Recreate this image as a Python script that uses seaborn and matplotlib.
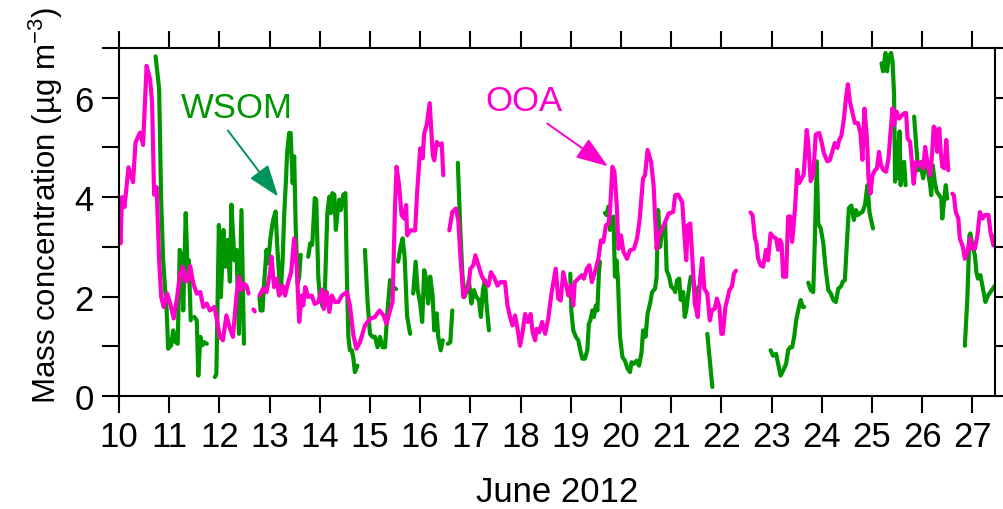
import numpy as np
import pandas as pd
import matplotlib
matplotlib.use("Agg")
import matplotlib.pyplot as plt
from matplotlib.ticker import MultipleLocator
import seaborn as sns

nan = np.nan

# OOA (magenta) : day of June 2012, mass concentration; NaN marks a data gap
ooa_day = [10.0, 10.03, 10.06, 10.11, 10.19, 10.28, 10.33, 10.42, 10.48, 10.55, 10.62, 10.66, 10.7, 10.75,
           10.8, 10.84, 10.89, 10.96, 11.02, 11.09, 11.15, 11.22, 11.27, 11.32, 11.37, 11.42, 11.48, 11.55,
           11.62, 11.68, 11.75, 11.81, 11.9, 11.94, 12.01, 12.07, 12.14, 12.2, 12.27, 12.34, 12.39, 12.44,
           12.49, 12.54, 12.58, nan,
           12.68, 12.705, nan,
           12.8, 12.87, 12.94, 13.01, 13.04, 13.09, 13.14, 13.19, 13.26, 13.31, 13.37, 13.43, 13.49, 13.54,
           13.59, 13.64, 13.67, 13.71, 13.77, 13.84, 13.9, 13.97, 14.04, 14.08, 14.14, 14.19, 14.24, 14.3,
           14.37, 14.44, 14.54, 14.6, 14.67, 14.73, 14.8, 14.9, 15.0, 15.1, 15.19, 15.27, 15.33, 15.4, 15.45,
           15.5, 15.53, 15.58, 15.63, 15.68, 15.72, 15.74, 15.8, 15.9, 15.94, 16.0, 16.05, 16.08, 16.13,
           16.19, 16.25, 16.28, 16.33, 16.38, 16.43, 16.46, nan,
           16.58, 16.64, 16.71, 16.76, 16.8, 16.86, 16.91, 16.96, 17.0, 17.06, 17.1, 17.16, 17.22, 17.29,
           17.36, 17.41, 17.47, 17.54, 17.6, 17.69, 17.74, 17.79, 17.84, 17.89, 17.94, 17.99, 18.04, 18.09,
           18.14, 18.2, 18.24, 18.29, 18.32, 18.37, 18.43, 18.49, 18.55, 18.62, 18.7, 18.75, 18.8, 18.85,
           18.91, 18.95, 19.0, 19.05, 19.08, 19.15, 19.22, 19.26, 19.32, 19.37, 19.42, 19.48, 19.55, 19.6,
           19.65, 19.7, 19.75, 19.78, 19.83, 19.87, 19.92, 19.95, 20.0, 20.05, 20.12, 20.18, 20.26, 20.32,
           20.37, 20.44, 20.48, 20.53, 20.6, 20.65, 20.71, 20.75, 20.82, 20.88, 20.95, 21.04, 21.08, 21.14,
           21.22, 21.26, 21.3, 21.33, 21.38, 21.43, 21.47, 21.53, 21.58, 21.62, 21.66, 21.72, 21.77, 21.81,
           21.87, 21.91, 21.96, 22.0, 22.03, 22.08, 22.13, 22.16, 22.21, 22.25, 22.29, nan,
           22.58, 22.62, 22.67, 22.7, 22.73, 22.78, 22.83, 22.89, 22.93, 22.98, 23.03, 23.09, 23.13, 23.17,
           23.2, 23.23, 23.29, 23.33, 23.37, 23.41, 23.47, 23.51, 23.55, 23.6, 23.64, 23.7, 23.73, 23.78,
           23.83, 23.88, 23.95, 24.0, 24.04, 24.11, 24.16, 24.21, 24.26, 24.31, 24.35, 24.39, 24.44, 24.48,
           24.52, 24.56, 24.61, 24.66, 24.72, 24.77, 24.81, 24.85, 24.9, 24.93, 24.97, 25.01, 25.06, 25.1,
           25.14, 25.18, 25.23, 25.28, 25.33, 25.36, 25.41, 25.44, 25.49, 25.54, 25.6, 25.65, 25.68, 25.71,
           25.76, 25.8, 25.83, 25.88, 25.93, 25.98, 26.02, 26.06, 26.11, 26.16, 26.2, 26.23, 26.27, 26.3,
           26.34, 26.36, 26.4, 26.45, 26.48, 26.52, nan,
           26.6, 26.63, 26.67, 26.72, 26.75, 26.81, 26.85, 26.9, 26.95, 27.0, 27.05, 27.1, 27.15, 27.2,
           27.25, 27.32, 27.36, 27.42, 27.45]
ooa_val = [3.64, 3.07, 4.0, 3.8, 4.6, 4.3, 5.1, 5.3, 5.05, 6.64, 6.37, 5.9, 4.05, 4.2,
           2.73, 2.0, 1.79, 2.06, 1.86, 1.56, 1.93, 2.46, 2.6, 2.3, 2.33, 2.61, 2.26, 2.06,
           2.09, 1.79, 1.86, 1.72, 1.79, 1.59, 1.19, 1.12, 1.62, 1.39, 1.19, 2.0, 2.4, 2.13,
           2.26, 2.22, 2.06, nan,
           1.74, 1.70, nan,
           2.02, 2.16, 2.09, 2.49, 2.8, 2.19, 2.36, 2.02, 2.22, 2.02, 2.29, 2.49, 3.17, 2.63,
           1.49, 2.02, 1.82, 2.19, 1.99, 2.02, 1.85, 1.89, 2.14, 1.75, 2.09, 1.69, 2.02, 1.89,
           1.89, 2.02, 2.09, 1.82, 1.22, 0.95, 1.08, 1.42, 1.55, 1.59, 1.72, 1.62, 1.45, 1.72, 1.89,
           3.84, 4.61, 4.24, 3.64, 3.57, 3.84, 3.23, 3.33, 3.33, 4.1, 4.98, 4.78, 5.28, 5.45,
           5.89, 4.85, 4.74, 5.11, 5.05, 5.08, 4.44, nan,
           3.33, 3.7, 3.77, 3.53, 2.83, 1.99, 2.09, 2.19, 2.56, 2.63, 2.83, 2.63, 2.43, 2.29,
           2.22, 2.49, 2.39, 2.22, 2.29, 2.29, 1.82, 1.59, 1.42, 1.62, 1.35, 1.01, 1.28, 1.65,
           1.49, 1.65, 1.28, 1.12, 1.35, 1.28, 1.49, 1.25, 1.55, 2.09, 2.56, 1.96, 1.92, 2.49,
           2.22, 2.02, 2.22, 1.82, 2.29, 2.36, 2.43, 2.36, 2.56, 2.63, 2.29, 2.49, 2.76, 3.13,
           3.1, 3.43, 3.47, 3.7, 4.61, 4.51, 3.77, 2.96, 3.23, 2.9, 2.76, 2.93, 2.96, 3.17,
           3.53, 4.38, 4.44, 4.95, 4.71, 4.24, 2.96, 3.23, 3.37, 3.5, 3.67, 3.7, 4.04, 4.05,
           3.9, 3.3, 2.73, 3.43, 3.47, 2.63, 1.86, 1.59, 2.4, 2.77, 2.16, 2.06, 1.52, 1.72,
           1.76, 1.96, 1.79, 1.25, 1.25, 1.79, 1.99, 2.13, 2.2, 2.46, 2.52, nan,
           3.69, 3.64, 3.17, 3.07, 2.77, 2.63, 2.6, 2.94, 2.73, 3.27, 3.2, 3.17, 2.94, 3.14,
           3.07, 2.4, 2.4, 3.61, 3.61, 3.1, 3.81, 4.55, 4.28, 4.38, 4.45, 5.35, 5.09, 4.32,
           4.45, 5.26, 5.29, 5.09, 4.89, 4.72, 4.74, 4.92, 5.09, 4.99, 5.16, 5.23, 5.56, 5.97,
           6.27, 5.93, 5.7, 5.49, 5.49, 5.29, 4.75, 5.78, 5.18, 4.38, 4.07, 4.44, 4.54, 4.58,
           4.91, 4.64, 4.54, 4.51, 4.78, 5.18, 5.79, 5.45, 5.72, 5.58, 5.65, 5.69, 5.69, 5.18,
           5.11, 4.64, 4.27, 4.71, 4.64, 4.71, 4.58, 5.01, 4.64, 4.44, 4.91, 5.42, 5.35, 4.91,
           5.38, 5.05, 4.61, 4.58, 5.15, 4.54, nan,
           4.07, 4.04, 3.7, 3.57, 3.17, 3.0, 2.76, 2.9, 3.17, 2.96, 2.96, 3.23, 3.7, 3.57,
           3.64, 3.64, 3.3, 3.03, 3.23]

# WSOM (green)
wsom_day = [10.73, 10.8, 10.84, 10.88, 10.92, 10.95, 10.98, 11.04, 11.08, 11.13, 11.17, 11.21, 11.25, 11.28,
            11.33, 11.37, 11.39, 11.43, nan,
            11.5, 11.55, 11.58, 11.62, 11.66, 11.7, 11.75, nan,
            11.91, 11.94, 11.99, 12.03, 12.08, 12.12, 12.16, 12.21, 12.24, 12.3, 12.34, 12.39, 12.44, 12.49,
            nan,
            12.8, 12.82, 12.86, 12.89, 12.94, 12.97, 13.02, 13.07, 13.12, 13.15, 13.19, 13.22, 13.26, 13.29,
            13.33, 13.35, 13.39, 13.42, 13.46, 13.49, 13.52, 13.56, 13.59, 13.62, nan,
            13.77, 13.81, 13.85, 13.9, 13.93, 13.97, 14.0, 14.06, 14.1, 14.15, 14.19, 14.22, 14.25, 14.29,
            14.32, 14.36, 14.39, 14.42, 14.47, 14.51, 14.54, 14.57, 14.6, 14.64, 14.67, 14.7, 14.75, nan,
            14.9, 14.95, 15.0, 15.05, 15.1, 15.15, 15.2, 15.25, 15.3, 15.35, 15.4, 15.46, 15.52, nan,
            15.56, 15.61, 15.65, 15.69, 15.74, 15.8, nan,
            15.86, 15.91, 15.95, 16.0, 16.04, 16.08, 16.11, 16.16, 16.2, 16.25, 16.28, 16.33, 16.36, 16.41,
            16.45, nan,
            16.55, 16.6, 16.64, nan,
            16.75, 16.8, 16.84, 16.88, 16.93, 16.97, 17.02, 17.07, 17.12, 17.17, 17.21, 17.25, 17.29, 17.32,
            17.37, nan,
            18.99, 19.01, 19.05, 19.1, 19.15, 19.19, 19.23, 19.28, 19.33, 19.36, 19.39, 19.43, 19.46, 19.5,
            19.53, 19.56, 19.58, nan,
            19.68, 19.71, 19.75, 19.78, 19.81, 19.85, 19.88, 19.91, 19.94, 19.98, 20.03, 20.08, 20.13, 20.18,
            20.21, 20.26, 20.31, 20.36, 20.41, 20.44, 20.49, 20.53, 20.58, 20.62, 20.68, 20.71, 20.74, 20.78,
            20.81, 20.84, 20.88, 20.91, 20.96, 21.0, 21.05, 21.08, 21.12, 21.16, 21.19, 21.24, 21.27, 21.3,
            21.35, 21.39, 21.45, 21.5, 21.55, nan,
            21.72, 21.82, nan,
            22.98, 23.03, 23.09, 23.13, 23.18, 23.23, 23.29, 23.33, 23.37, 23.41, 23.45, 23.49, 23.53, 23.58,
            23.62, 23.65, nan,
            23.73, 23.78, 23.83, 23.86, 23.9, 23.93, 23.98, 24.03, 24.08, 24.13, 24.18, 24.23, 24.28, 24.33,
            24.38, 24.42, 24.46, 24.5, 24.54, 24.59, 24.64, 24.68, 24.72, 24.77, 24.81, 24.86, 24.91, 24.95,
            24.98, 25.02, nan,
            25.19, 25.22, 25.27, 25.3, 25.34, 25.38, 25.41, 25.44, 25.46, 25.5, 25.52, 25.55, 25.57, 25.6,
            25.64, 25.67, nan,
            25.84, 25.88, 25.92, 25.97, 26.02, 26.06, 26.11, 26.16, 26.18, 26.21, 26.25, 26.29, 26.34, 26.38,
            26.4, 26.44, 26.47, 26.5, nan,
            26.85, 26.9, 26.94, 26.96, 27.0, 27.05, 27.08, 27.11, 27.16, 27.21, 27.26, 27.31, 27.38, 27.45]
wsom_val = [6.83, 6.17, 3.95, 2.73, 2.13, 1.72, 0.95, 1.02, 1.32, 1.08, 1.05, 2.94, 2.8, 1.72,
            3.68, 2.4, 2.73, 1.52, nan,
            1.59, 1.52, 0.41, 1.19, 1.02, 1.08, 1.05, nan,
            0.38, 0.44, 3.44, 1.99, 3.34, 2.6, 3.14, 2.3, 3.85, 2.73, 2.94, 1.25, 3.74, 1.05,
            nan,
            1.99, 1.72, 1.72, 2.26, 2.94, 2.67, 3.2, 3.54, 3.71, 3.07, 2.4, 2.06, 2.73, 3.61,
            4.42, 4.89, 5.29, 5.29, 4.28, 4.82, 3.41, 2.26, 2.4, 2.84, nan,
            2.8, 3.07, 3.04, 3.98, 3.95, 2.4, 1.99, 1.79, 2.06, 3.68, 4.01, 3.68, 4.08, 4.05,
            3.34, 3.74, 3.95, 3.74, 4.05, 4.08, 2.4, 1.19, 0.92, 0.92, 0.75, 0.48, 0.61, nan,
            2.94, 1.93, 1.25, 1.19, 1.19, 0.98, 1.19, 0.98, 0.98, 1.72, 2.33, 2.2, 2.15, nan,
            2.7, 3.0, 3.17, 2.8, 1.6, 1.25, nan,
            2.06, 2.7, 2.13, 1.86, 1.49, 2.53, 2.4, 1.86, 2.4, 1.99, 1.32, 1.66, 1.19, 0.92,
            1.12, nan,
            1.05, 1.08, 1.72, nan,
            4.69, 3.34, 2.46, 1.99, 2.13, 2.33, 1.86, 2.13, 1.99, 1.93, 1.59, 2.13, 2.33, 1.86,
            1.32, nan,
            2.46, 1.72, 1.32, 1.19, 1.12, 0.92, 0.75, 0.75, 0.92, 1.45, 1.52, 1.72, 1.59, 1.82,
            1.72, 2.46, 2.7, nan,
            3.68, 3.64, 3.81, 3.34, 3.54, 3.61, 2.4, 2.73, 2.33, 1.19, 0.78, 0.71, 0.55, 0.48,
            0.68, 0.65, 0.71, 0.61, 0.88, 1.32, 1.19, 1.66, 1.86, 2.09, 2.16, 2.4, 3.74, 3.0,
            3.27, 3.34, 3.47, 2.53, 2.4, 2.2, 2.16, 2.09, 2.33, 2.36, 1.93, 2.09, 1.59, 1.72,
            2.13, 2.4, 2.3, 1.85, 2.2, nan,
            1.25, 0.18, nan,
            0.92, 0.81, 0.85, 0.65, 0.41, 0.51, 0.65, 0.92, 0.98, 0.98, 1.19, 1.52, 1.72, 1.93,
            1.79, 1.79, nan,
            2.28, 2.13, 2.09, 3.07, 4.72, 3.47, 3.37, 3.07, 2.53, 2.13, 2.06, 1.93, 1.89, 2.16,
            2.2, 2.3, 2.33, 3.07, 3.78, 3.83, 3.54, 3.74, 3.64, 3.68, 3.7, 3.84, 4.24, 3.7,
            3.55, 3.37, nan,
            6.69, 6.53, 6.9, 6.53, 6.83, 6.9, 6.73, 6.06, 4.31, 5.11, 4.38, 5.32, 4.24, 4.44,
            4.71, 4.24, nan,
            5.62, 5.05, 4.54, 4.64, 4.38, 4.68, 4.54, 4.24, 4.04, 4.64, 4.31, 4.11, 4.04, 3.97,
            3.57, 3.97, 4.24, 3.97, nan,
            1.01, 1.96, 3.23, 3.27, 3.03, 2.83, 2.49, 2.36, 2.43, 2.16, 1.89, 2.02, 2.12, 2.22]

x_ticks = list(range(10, 28))
y_ticks = [0, 2, 4, 6]
x_label = "June 2012"
y_label = "Mass concentration (µg m$^{-3}$)"

GREEN = "#009600"
MAGENTA = "#FF00CC"
ARROW_GREEN = "#00935A"


def to_frame(days, vals, name):
    d = np.asarray(days, float)
    v = np.asarray(vals, float)
    seg = np.cumsum(np.isnan(d))
    df = pd.DataFrame({"day": d, "val": v, "seg": seg, "series": name})
    return df.dropna()


df_w = to_frame(wsom_day, wsom_val, "WSOM")
df_o = to_frame(ooa_day, ooa_val, "OOA")

sns.set_theme(style="white")
plt.rcParams["font.family"] = ["Liberation Sans", "DejaVu Sans"]
plt.rcParams["mathtext.fontset"] = "custom"
plt.rcParams["mathtext.rm"] = "Liberation Sans"
plt.rcParams["mathtext.it"] = "Liberation Sans"
for k in ["text.color", "axes.labelcolor", "xtick.color", "ytick.color", "axes.edgecolor"]:
    plt.rcParams[k] = "black"

fig = plt.figure(figsize=(10.04, 5.10), dpi=100)
ax = fig.add_axes([0.1185, 0.2216, 0.8725, 0.6824])

sns.lineplot(data=df_w, x="day", y="val", units="seg", estimator=None, color=GREEN,
             linewidth=3.0, ax=ax, sort=False)
sns.lineplot(data=df_o, x="day", y="val", units="seg", estimator=None, color=MAGENTA,
             linewidth=3.0, ax=ax, sort=False)

ax.set_xlim(10, 27.45)
ax.set_ylim(0, 7)
ax.set_xticks(x_ticks)
ax.set_xticklabels([str(t) for t in x_ticks])
ax.set_yticks(y_ticks)
ax.yaxis.set_minor_locator(MultipleLocator(1))
ax.tick_params(axis="both", which="both", direction="out", length=12, width=1.5,
               color="black", labelcolor="black", labelsize=25, top=True, right=True,
               bottom=True, left=True, labeltop=False, labelright=False)
ax.tick_params(axis="x", pad=5)
ax.tick_params(axis="y", pad=6)
for s in ax.spines.values():
    s.set_visible(True)
    s.set_color("black")
    s.set_linewidth(1.5)

ax.set_xlabel(x_label, fontsize=25, labelpad=16)
ax.set_ylabel(y_label, fontsize=22.5)
ax.yaxis.set_label_coords(-0.062, 0.55)

# arrows (shaft start -> head) and their labels
ax.annotate("", xy=(13.17, 4.01), xytext=(12.17, 5.34),
            arrowprops=dict(arrowstyle="-|>,head_length=0.9,head_width=0.32", color=ARROW_GREEN,
                            lw=1.4, shrinkA=0, shrinkB=0, mutation_scale=22))
ax.annotate("", xy=(19.74, 4.62), xytext=(18.53, 5.48),
            arrowprops=dict(arrowstyle="-|>,head_length=0.9,head_width=0.32", color=MAGENTA,
                            lw=1.4, shrinkA=0, shrinkB=0, mutation_scale=22))
ax.text(12.35, 5.8, "WSOM", fontsize=25, color=GREEN, ha="center", va="center")
ax.text(18.07, 5.95, "OOA", fontsize=25, color=MAGENTA, ha="center", va="center")
ax.grid(False)

fig.savefig("out.png", dpi=100)
